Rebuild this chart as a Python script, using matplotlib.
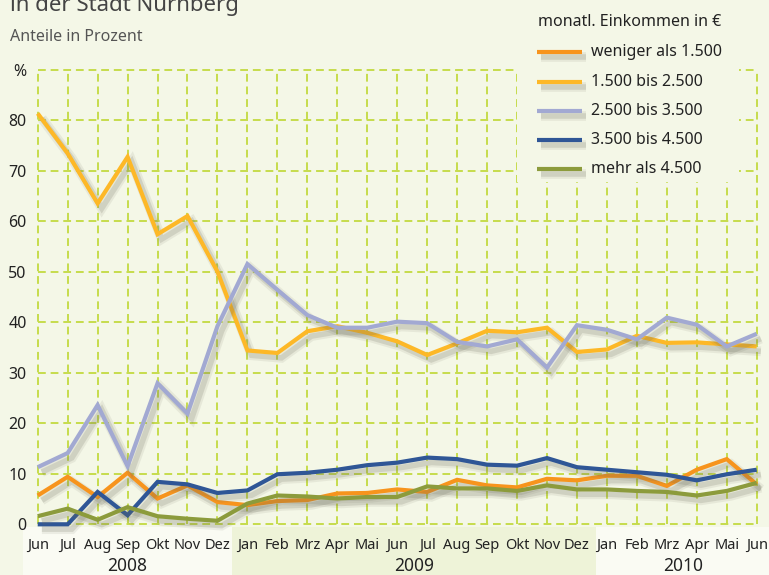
import matplotlib
matplotlib.use('Agg')
import matplotlib.pyplot as plt
import matplotlib.patheffects as pe
import matplotlib.transforms as mtransforms
from matplotlib.patches import Rectangle
from matplotlib.lines import Line2D

plt.rcParams['font.family'] = ['Noto Sans', 'DejaVu Sans']

months = ['Jun', 'Jul', 'Aug', 'Sep', 'Okt', 'Nov', 'Dez',
          'Jan', 'Feb', 'Mrz', 'Apr', 'Mai', 'Jun', 'Jul', 'Aug', 'Sep', 'Okt', 'Nov', 'Dez',
          'Jan', 'Feb', 'Mrz', 'Apr', 'Mai', 'Jun']
years = ['2008', '2009', '2010']
year_spans = [(-0.5, 6.5), (6.5, 18.62), (18.62, 25.5)]

names = ['weniger als 1.500', '1.500 bis 2.500', '2.500 bis 3.500',
         '3.500 bis 4.500', 'mehr als 4.500']
weniger = [5.7, 9.4, 5.4, 10.2, 5.1, 7.7, 4.4, 3.8, 4.6, 4.8, 6.1, 6.2, 6.9,
           6.4, 8.8, 7.7, 7.3, 9.0, 8.7, 9.6, 9.6, 7.6, 10.8, 12.9, 7.9]
bis2500 = [81.3, 73.4, 63.5, 72.7, 57.4, 61.0, 50.0, 34.4, 33.9, 38.2, 39.2, 37.9, 36.2,
           33.5, 35.8, 38.3, 38.0, 38.9, 34.1, 34.6, 37.3, 35.9, 36.0, 35.6, 35.2]
bis3500 = [11.3, 14.1, 23.6, 11.5, 27.9, 21.9, 39.2, 51.5, 46.4, 41.4, 38.9, 38.9, 40.1,
           39.8, 36.1, 35.2, 36.6, 31.0, 39.4, 38.5, 36.6, 40.9, 39.5, 35.2, 37.7]
bis4500 = [0.0, 0.0, 6.4, 1.8, 8.4, 7.9, 6.2, 6.7, 9.9, 10.2, 10.8, 11.7, 12.2,
           13.2, 12.9, 11.8, 11.6, 13.1, 11.3, 10.8, 10.3, 9.8, 8.7, 9.9, 10.8]
mehr = [1.6, 3.1, 0.9, 3.4, 1.6, 1.1, 0.7, 4.1, 5.7, 5.5, 5.1, 5.4, 5.4,
        7.5, 7.1, 7.1, 6.6, 7.7, 6.9, 6.9, 6.6, 6.4, 5.7, 6.6, 8.2]

series = [weniger, bis2500, bis3500, bis4500, mehr]
colors = ['#f7941d', '#fdb827', '#a2a9d2', '#2f5696', '#8c9b3c']
draw_order = [4, 0, 2, 1, 3]

BG = '#f4f7e7'
GRID = '#c6dc4c'

W, H = 769, 575
fig = plt.figure(figsize=(W / 100, H / 100), dpi=100, facecolor=BG)
ax = fig.add_axes([37.7 / W, 1 - 524.3 / H, (756.7 - 37.7) / W, (524.3 - 69.5) / H])
ax.set_facecolor(BG)

x = list(range(len(months)))
ax.set_xlim(0, len(months) - 1)
ax.set_ylim(0, 90)

# grid
for yv in range(0, 91, 10):
    ax.axhline(yv, color=GRID, lw=1.4, ls=(0, (4, 2.5)), zorder=1, clip_on=False)
for xv in x:
    ax.axvline(xv, color=GRID, lw=1.4, ls=(0, (4, 2.5)), zorder=1, clip_on=False)

def shadow_effects(lw):
    return [pe.SimpleLineShadow(offset=(3, -3.5), shadow_color='#6b6b5a', alpha=0.10, linewidth=lw + 4),
            pe.SimpleLineShadow(offset=(3, -3.5), shadow_color='#6b6b5a', alpha=0.18, linewidth=lw + 1),
            pe.Normal()]

lw = 3.0
for i in draw_order:
    ax.plot(x, series[i], color=colors[i], lw=lw, solid_joinstyle='miter',
            solid_capstyle='butt', zorder=3 + i * 0.01, clip_on=False,
            path_effects=shadow_effects(lw))

for s in ax.spines.values():
    s.set_visible(False)

ax.set_yticks(range(0, 91, 10))
ax.set_yticklabels([str(v) for v in range(0, 81, 10)] + ['%'])
ax.set_xticks(x)
ax.set_xticklabels(months)
ax.tick_params(axis='y', length=0, pad=8, labelsize=11.5, labelcolor='#222222')
ax.tick_params(axis='x', length=0, pad=10, labelsize=10.5, labelcolor='#222222')

# year bands under the month labels
trans = mtransforms.blended_transform_factory(ax.transData, fig.transFigure)
band_colors = ['#fafbf3', '#eef3d8', '#fafbf3']
for (a, b), c, yr in zip(year_spans, band_colors, years):
    r = Rectangle((a, 0), b - a, 1 - 527 / H, transform=trans, facecolor=c,
                  edgecolor='none', zorder=-5, clip_on=False)
    fig.patches.append(r)
    fig.text(0, 0, '', transform=trans)
    t = fig.text((a + min(b, 24.5)) / 2 if b < 25 else (a + 24.5) / 2, 1 - 566 / H, yr,
                 transform=trans, ha='center', va='center', fontsize=12.5, color='#222222')

# titles
fig.text(10 / W, 1 - 11 / H, 'in der Stadt Nürnberg', ha='left', va='baseline',
         fontsize=16, fontweight='bold', color='#444444')
fig.text(10 / W, 1 - 41 / H, 'Anteile in Prozent', ha='left', va='baseline',
         fontsize=11.5, color='#555555')

# legend
box = Rectangle((517 / W, 1 - 182 / H), (739 - 517) / W, 182 / H, transform=fig.transFigure,
                facecolor=BG, edgecolor='none', zorder=5)
fig.patches.append(box)
fig.text(538 / W, 1 - 22 / H, 'monatl. Einkommen in €', ha='left', va='center',
         fontsize=11.5, color='#222222', zorder=6)
ys = [52, 82, 111, 140, 169]
for i, yy in enumerate(ys):
    yf = 1 - yy / H
    ln = Line2D([537 / W, 582 / W], [yf, yf], transform=fig.transFigure, color=colors[i],
                lw=3.0, solid_capstyle='butt', zorder=6,
                path_effects=shadow_effects(3.0))
    fig.lines.append(ln)
    fig.text(591 / W, yf, names[i], ha='left', va='center', fontsize=11.5,
             color='#222222', zorder=6)

fig.savefig('out.png', dpi=100, facecolor=BG)
